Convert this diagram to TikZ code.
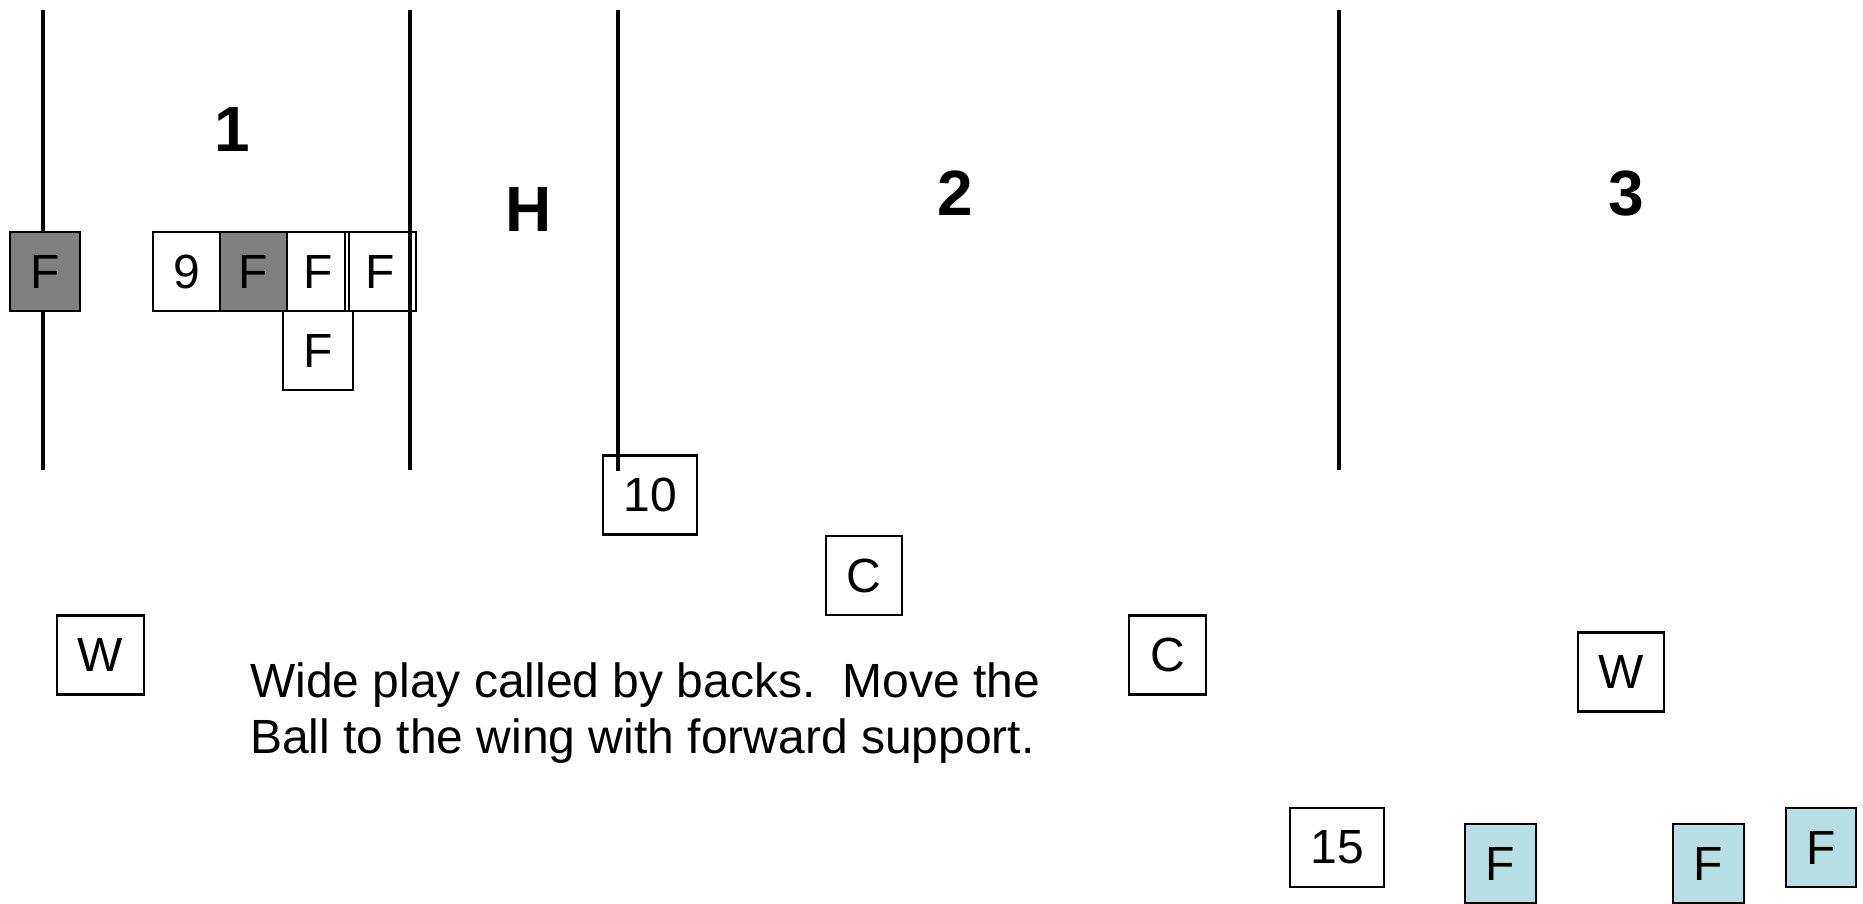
\documentclass[tikz,border=0pt]{standalone}
\usepackage{fontspec}
\setmainfont{Liberation Sans}
\usetikzlibrary{positioning}
\definecolor{fwdgrey}{RGB}{128,128,128}
\definecolor{fwdblue}{RGB}{183,222,226}
\tikzstyle{player} = [rectangle, draw, line width=2.5pt, inner sep=0pt, outer sep=0pt,
    minimum height=79pt, font=\fontsize{48}{56}\selectfont]
\tikzstyle{grey player} = [player, fill=fwdgrey]
\tikzstyle{blue player} = [player, fill=fwdblue]
\tikzstyle{zone} = [font=\fontsize{64}{72}\selectfont\bfseries, inner sep=0pt]
\tikzstyle{fieldline} = [draw, line width=3.5pt]
\tikzstyle{note} = [align=left, inner sep=0pt, anchor=base west,
    font=\fontsize{48}{56}\selectfont]

\begin{document}
\begin{tikzpicture}[x=1pt, y=-1pt]
  \useasboundingbox (0,0) rectangle (1863,904);
  % Field lines
  \path [fieldline] (43,10) -- (43,470);
  \path [fieldline] (410,10) -- (410,470);
  \path [fieldline] (618,10) -- (618,471);
  \path [fieldline] (1339,10) -- (1339,470);

  % Zone labels
  \node [zone] (zoneOne) at (232,129) {1};
  \node [zone] (zoneH) at (529,209) {H};
  \node [zone] (zoneTwo) at (955,193.5) {2};
  \node [zone] (zoneThree) at (1626,193.5) {3};

  % Ruck / forwards
  \node [grey player, minimum width=70pt] (fwdA) at (45,271.5) {F};
  \node [player, minimum width=67pt] (nine) at (186.5,271.5) {9};
  \node [grey player, minimum width=67pt, right=0pt of nine] (fwdB) {F};
  \node [player, minimum width=62pt, right=0pt of fwdB] (fwdC) {F};
  \node [player, minimum width=71pt, right=-4pt of fwdC] (fwdD) {F};
  \node [player, minimum width=70pt, below=0pt of fwdC] (fwdE) {F};

  % Backs
  \node [player, minimum width=94pt] (ten) at (650,495) {10};
  \node [player, minimum width=76pt] (centreA) at (864,575.5) {C};
  \node [player, minimum width=87pt] (wingA) at (100.5,655) {W};
  \node [player, minimum width=77pt] (centreB) at (1167.5,655) {C};
  \node [player, minimum width=86pt] (wingB) at (1621,672) {W};
  \node [player, minimum width=94pt] (fullback) at (1337,847.5) {15};

  % Support forwards
  \node [blue player, minimum width=71pt] (supA) at (1500.5,863.5) {F};
  \node [blue player, minimum width=71pt] (supB) at (1708.5,863.5) {F};
  \node [blue player, minimum width=70pt] (supC) at (1821,847.5) {F};

  \node [note] (call) at (250,753) {Wide play called by backs.\ \ Move the\\Ball to the wing with forward support.};
\end{tikzpicture}
\end{document}
